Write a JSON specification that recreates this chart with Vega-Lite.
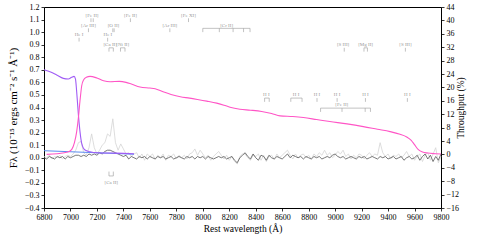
{
  "$schema": "https://vega.github.io/schema/vega-lite/v6.json",
  "width": 397,
  "height": 201,
  "autosize": "none",
  "padding": {"left": 44, "top": 7, "right": 38, "bottom": 32},
  "background": "white",
  "config": {
    "view": {"stroke": "black", "strokeWidth": 1},
    "font": "Liberation Serif",
    "axis": {
      "labelFont": "Liberation Serif", "titleFont": "Liberation Serif",
      "labelFontSize": 8, "titleFontSize": 9.5, "titleFontWeight": "normal",
      "labelColor": "black", "titleColor": "black", "labelOverlap": false,
      "domain": false, "grid": false, "tickColor": "black", "tickSize": 3, "tickWidth": 0.8
    }
  },
  "datasets": {
    "spec": [
      {"w":6800,"d":0.00,"l":0.01},{"w":6820,"d":-0.01,"l":0.00},{"w":6840,"d":0.01,"l":0.02},{"w":6860,"d":0.00,"l":-0.01},{"w":6880,"d":-0.01,"l":0.01},
      {"w":6900,"d":0.01,"l":0.00},{"w":6920,"d":0.00,"l":0.02},{"w":6940,"d":0.01,"l":-0.01},{"w":6960,"d":-0.01,"l":0.01},{"w":6980,"d":0.01,"l":0.02},
      {"w":7000,"d":0.00,"l":0.01},{"w":7020,"d":0.01,"l":0.03},{"w":7040,"d":0.02,"l":0.06},{"w":7060,"d":0.02,"l":0.12},{"w":7080,"d":0.01,"l":0.13},
      {"w":7100,"d":0.02,"l":0.04},{"w":7120,"d":0.01,"l":0.02},{"w":7140,"d":0.03,"l":0.08},{"w":7160,"d":0.02,"l":0.19},{"w":7180,"d":0.03,"l":0.08},
      {"w":7200,"d":0.02,"l":0.03},{"w":7220,"d":0.04,"l":0.06},{"w":7240,"d":0.03,"l":0.10},{"w":7260,"d":0.05,"l":0.12},{"w":7280,"d":0.06,"l":0.19},
      {"w":7300,"d":0.06,"l":0.17},{"w":7320,"d":0.05,"l":0.31},{"w":7340,"d":0.04,"l":0.12},{"w":7360,"d":0.03,"l":0.06},{"w":7380,"d":0.02,"l":0.11},
      {"w":7400,"d":0.01,"l":0.07},{"w":7420,"d":0.02,"l":0.03},{"w":7440,"d":-0.01,"l":0.04},{"w":7460,"d":0.01,"l":0.01},{"w":7480,"d":0.00,"l":0.03},
      {"w":7500,"d":-0.01,"l":0.04},{"w":7520,"d":0.01,"l":0.00},{"w":7540,"d":0.00,"l":0.03},{"w":7560,"d":0.01,"l":-0.02},{"w":7580,"d":-0.01,"l":0.03},
      {"w":7600,"d":0.01,"l":0.01},{"w":7620,"d":0.00,"l":0.03},{"w":7640,"d":-0.01,"l":-0.01},{"w":7660,"d":0.01,"l":0.02},{"w":7680,"d":0.00,"l":0.00},
      {"w":7700,"d":0.01,"l":0.03},{"w":7720,"d":-0.01,"l":-0.02},{"w":7740,"d":0.00,"l":0.02},{"w":7760,"d":0.01,"l":0.01},{"w":7780,"d":-0.01,"l":0.03},
      {"w":7800,"d":0.00,"l":-0.01},{"w":7820,"d":0.01,"l":0.02},{"w":7840,"d":0.00,"l":0.00},{"w":7860,"d":-0.01,"l":0.02},{"w":7880,"d":0.01,"l":-0.01},
      {"w":7900,"d":0.00,"l":0.03},{"w":7920,"d":0.01,"l":0.04},{"w":7940,"d":-0.01,"l":0.07},{"w":7960,"d":0.01,"l":0.02},{"w":7980,"d":0.00,"l":0.06},
      {"w":8000,"d":0.01,"l":0.03},{"w":8020,"d":-0.01,"l":0.00},{"w":8040,"d":0.01,"l":0.02},{"w":8060,"d":0.00,"l":-0.02},{"w":8080,"d":-0.01,"l":0.01},
      {"w":8100,"d":0.00,"l":0.03},{"w":8120,"d":0.01,"l":0.05},{"w":8140,"d":0.00,"l":0.02},{"w":8160,"d":0.01,"l":-0.01},{"w":8180,"d":-0.01,"l":0.02},
      {"w":8200,"d":0.00,"l":-0.02},{"w":8220,"d":0.01,"l":0.01},{"w":8240,"d":-0.02,"l":-0.03},{"w":8260,"d":-0.04,"l":-0.05},{"w":8280,"d":0.00,"l":0.01},
      {"w":8300,"d":0.02,"l":0.03},{"w":8320,"d":0.04,"l":0.03},{"w":8340,"d":0.01,"l":0.00},{"w":8360,"d":-0.01,"l":-0.02},{"w":8380,"d":0.03,"l":0.02},
      {"w":8400,"d":0.00,"l":0.01},{"w":8420,"d":-0.02,"l":0.03},{"w":8440,"d":0.02,"l":-0.02},{"w":8460,"d":0.01,"l":0.02},{"w":8480,"d":-0.02,"l":-0.03},
      {"w":8500,"d":0.02,"l":0.01},{"w":8520,"d":0.00,"l":0.02},{"w":8540,"d":-0.01,"l":-0.01},{"w":8560,"d":0.01,"l":0.03},{"w":8580,"d":0.00,"l":0.00},
      {"w":8600,"d":-0.01,"l":0.02},{"w":8620,"d":0.01,"l":0.04},{"w":8640,"d":0.03,"l":0.06},{"w":8660,"d":0.00,"l":0.02},{"w":8680,"d":0.02,"l":-0.01},
      {"w":8700,"d":0.01,"l":0.03},{"w":8720,"d":0.00,"l":0.00},{"w":8740,"d":0.01,"l":0.02},{"w":8760,"d":-0.01,"l":0.03},{"w":8780,"d":0.01,"l":0.00},
      {"w":8800,"d":0.00,"l":0.02},{"w":8820,"d":-0.01,"l":-0.01},{"w":8840,"d":0.01,"l":0.03},{"w":8860,"d":0.00,"l":0.01},{"w":8880,"d":0.01,"l":0.04},
      {"w":8900,"d":-0.01,"l":0.02},{"w":8920,"d":0.00,"l":0.06},{"w":8940,"d":0.01,"l":0.02},{"w":8960,"d":0.00,"l":0.04},{"w":8980,"d":0.02,"l":0.00},
      {"w":9000,"d":0.03,"l":0.02},{"w":9020,"d":0.01,"l":0.05},{"w":9040,"d":0.00,"l":0.03},{"w":9060,"d":0.01,"l":0.06},{"w":9080,"d":-0.01,"l":0.01},
      {"w":9100,"d":0.00,"l":0.03},{"w":9120,"d":0.01,"l":-0.01},{"w":9140,"d":0.00,"l":0.02},{"w":9160,"d":-0.01,"l":0.00},{"w":9180,"d":0.01,"l":0.03},
      {"w":9200,"d":0.00,"l":0.02},{"w":9220,"d":0.01,"l":-0.01},{"w":9240,"d":-0.01,"l":0.02},{"w":9260,"d":0.00,"l":0.04},{"w":9280,"d":0.01,"l":0.01},
      {"w":9300,"d":0.00,"l":0.03},{"w":9320,"d":-0.01,"l":0.02},{"w":9340,"d":0.01,"l":0.12},{"w":9360,"d":0.00,"l":0.04},{"w":9380,"d":0.01,"l":0.01},
      {"w":9400,"d":-0.01,"l":0.03},{"w":9420,"d":0.00,"l":-0.01},{"w":9440,"d":0.01,"l":0.02},{"w":9460,"d":-0.01,"l":0.01},{"w":9480,"d":0.00,"l":0.03},
      {"w":9500,"d":0.01,"l":0.00},{"w":9520,"d":-0.02,"l":0.02},{"w":9540,"d":0.00,"l":0.05},{"w":9560,"d":0.01,"l":0.01},{"w":9580,"d":-0.01,"l":0.03},
      {"w":9600,"d":0.00,"l":-0.02},{"w":9620,"d":0.02,"l":0.01},{"w":9640,"d":-0.02,"l":0.03},{"w":9660,"d":0.01,"l":-0.03},{"w":9680,"d":0.03,"l":0.02},
      {"w":9700,"d":-0.01,"l":0.04},{"w":9720,"d":0.02,"l":-0.02},{"w":9740,"d":-0.03,"l":0.03},{"w":9760,"d":0.01,"l":0.08},{"w":9780,"d":-0.02,"l":-0.04},
      {"w":9800,"d":0.03,"l":0.01}
    ],
    "pink": [
      {"w":6820,"t":0},{"w":6900,"t":0.2},{"w":6980,"t":0.7},{"w":7010,"t":1.5},{"w":7030,"t":3.5},{"w":7047,"t":6.8},{"w":7060,"t":11},{"w":7072,"t":16},
      {"w":7085,"t":20.5},{"w":7100,"t":22.3},{"w":7120,"t":23},{"w":7148,"t":23.3},{"w":7200,"t":22.8},{"w":7250,"t":22.0},{"w":7300,"t":21.7},
      {"w":7370,"t":21.8},{"w":7420,"t":21.5},{"w":7460,"t":21.0},{"w":7526,"t":20.1},{"w":7600,"t":19.8},{"w":7640,"t":19.6},{"w":7700,"t":18.7},
      {"w":7760,"t":17.9},{"w":7830,"t":17.2},{"w":7900,"t":16.8},{"w":7960,"t":16.4},{"w":8030,"t":15.9},{"w":8105,"t":15.3},{"w":8160,"t":14.7},
      {"w":8206,"t":14.1},{"w":8280,"t":13.5},{"w":8360,"t":13.2},{"w":8445,"t":12.8},{"w":8520,"t":12.2},{"w":8584,"t":11.5},{"w":8680,"t":11.3},
      {"w":8760,"t":11.0},{"w":8860,"t":10.4},{"w":8960,"t":9.8},{"w":9090,"t":9.1},{"w":9213,"t":8.3},{"w":9320,"t":7.5},{"w":9415,"t":6.8},
      {"w":9490,"t":6.0},{"w":9541,"t":5.2},{"w":9575,"t":4.2},{"w":9600,"t":2.9},{"w":9629,"t":1.4},{"w":9660,"t":0.7},{"w":9700,"t":0.4},
      {"w":9760,"t":0.2},{"w":9800,"t":0.1}
    ],
    "purple": [
      {"w":6800,"t":25.3},{"w":6850,"t":24.6},{"w":6896,"t":23.7},{"w":6946,"t":22.7},{"w":6984,"t":22.5},{"w":7009,"t":23.0},{"w":7027,"t":23.3},
      {"w":7038,"t":22.5},{"w":7047,"t":18.7},{"w":7060,"t":11.8},{"w":7072,"t":6.8},{"w":7085,"t":3.3},{"w":7110,"t":1.3},{"w":7148,"t":0.8},
      {"w":7200,"t":0.5},{"w":7300,"t":0.4},{"w":7400,"t":0.3},{"w":7480,"t":0.2}
    ],
    "blue": [{"w":6800,"v":0.056},{"w":7480,"v":0.028}],
    "labels": [
      {"w":7065,"v":0.985,"txt":"He I"},{"w":7136,"v":1.06,"txt":"[Ar III]"},{"w":7163,"v":1.14,"txt":"[Fe II]"},
      {"w":7283,"v":0.985,"txt":"He I"},{"w":7325,"v":1.06,"txt":"[O II]"},{"w":7300,"v":0.905,"txt":"[Ca II]"},
      {"w":7395,"v":0.905,"txt":"[Ni II]"},{"w":7453,"v":1.14,"txt":"[Fe II]"},{"w":7751,"v":1.06,"txt":"[Ar III]"},
      {"w":7892,"v":1.14,"txt":"[Fe XI]"},{"w":8180,"v":1.06,"txt":"[Cr II]"},{"w":9060,"v":0.905,"txt":"[S III]"},
      {"w":9230,"v":0.905,"txt":"[Mg II]"},{"w":9531,"v":0.905,"txt":"[S III]"},
      {"w":8480,"v":0.505,"txt":"H I"},{"w":8705,"v":0.505,"txt":"H I"},{"w":8863,"v":0.505,"txt":"H I"},
      {"w":9015,"v":0.505,"txt":"H I"},{"w":9229,"v":0.505,"txt":"H I"},{"w":9546,"v":0.505,"txt":"H I"},
      {"w":9050,"v":0.425,"txt":"[Fe II]"},{"w":7308,"v":-0.19,"txt":"[Ca II]"}
    ],
    "vticks": [
      {"w":7065,"a":0.955,"b":0.925},{"w":7136,"a":1.03,"b":1.0},{"w":7155,"a":1.11,"b":1.08},{"w":7172,"a":1.11,"b":1.08},
      {"w":7281,"a":0.955,"b":0.925},{"w":7320,"a":1.03,"b":1.0},{"w":7330,"a":1.03,"b":1.0},{"w":7453,"a":1.11,"b":1.08},
      {"w":7751,"a":1.03,"b":1.0},{"w":7892,"a":1.11,"b":1.08},
      {"w":7291,"a":0.875,"b":0.845},{"w":7324,"a":0.875,"b":0.845},{"w":7378,"a":0.875,"b":0.845},{"w":7412,"a":0.875,"b":0.845},
      {"w":8000,"a":1.03,"b":1.0},{"w":8125,"a":1.03,"b":1.0},{"w":8229,"a":1.03,"b":1.0},{"w":8308,"a":1.03,"b":1.0},{"w":8357,"a":1.03,"b":1.0},
      {"w":9069,"a":0.875,"b":0.845},{"w":9218,"a":0.875,"b":0.845},{"w":9244,"a":0.875,"b":0.845},{"w":9531,"a":0.875,"b":0.845},
      {"w":8467,"a":0.475,"b":0.445},{"w":8502,"a":0.475,"b":0.445},{"w":8665,"a":0.475,"b":0.445},{"w":8750,"a":0.475,"b":0.445},
      {"w":8863,"a":0.475,"b":0.445},{"w":9015,"a":0.475,"b":0.445},{"w":9229,"a":0.475,"b":0.445},{"w":9546,"a":0.475,"b":0.445},
      {"w":8890,"a":0.395,"b":0.365},{"w":9052,"a":0.395,"b":0.365},{"w":9227,"a":0.395,"b":0.365},{"w":9267,"a":0.395,"b":0.365},
      {"w":7291,"a":-0.145,"b":-0.11},{"w":7324,"a":-0.145,"b":-0.11}
    ],
    "hticks": [
      {"w1":7291,"w2":7324,"v":0.875},{"w1":7378,"w2":7412,"v":0.875},{"w1":8000,"w2":8357,"v":1.03},
      {"w1":9218,"w2":9244,"v":0.875},{"w1":8467,"w2":8502,"v":0.475},{"w1":8665,"w2":8750,"v":0.475},
      {"w1":8890,"w2":9267,"v":0.395},{"w1":7291,"w2":7324,"v":-0.145}
    ]
  },
  "encoding": {
    "x": {
      "field": "w", "type": "quantitative",
      "scale": {"domain": [6800, 9800], "nice": false, "zero": false},
      "axis": {"values": [6800,7000,7200,7400,7600,7800,8000,8200,8400,8600,8800,9000,9200,9400,9600,9800], "format": "d", "title": "Rest wavelength (Å)", "labelFlush": false, "titlePadding": 2, "labelPadding": 2}
    }
  },
  "layer": [
    {
      "layer": [
        {
          "data": {"name": "spec"},
          "mark": {"type": "line", "color": "#d4d4d4", "strokeWidth": 0.8},
          "encoding": {"y": {"field": "l", "type": "quantitative", "title": "Fλ (10⁻¹⁵ ergs cm⁻² s⁻¹ Å⁻¹)", "scale": {"domain": [-0.4, 1.2], "nice": false, "zero": false},
            "axis": {"values": [-0.4,-0.3,-0.2,-0.1,0,0.1,0.2,0.3,0.4,0.5,0.6,0.7,0.8,0.9,1.0,1.1,1.2], "format": ".1f", "titlePadding": 6, "labelPadding": 2, "titleFontSize": 11}}}
        },
        {
          "data": {"name": "spec"},
          "mark": {"type": "line", "color": "#555555", "strokeWidth": 0.8},
          "encoding": {"y": {"field": "d", "type": "quantitative", "title": "Fλ (10⁻¹⁵ ergs cm⁻² s⁻¹ Å⁻¹)",
            "axis": {"values": [-0.4,-0.3,-0.2,-0.1,0,0.1,0.2,0.3,0.4,0.5,0.6,0.7,0.8,0.9,1.0,1.1,1.2], "format": ".1f", "titlePadding": 6, "labelPadding": 2, "titleFontSize": 11}}}
        },
        {
          "data": {"name": "blue"},
          "mark": {"type": "line", "color": "#5b8cf0", "strokeWidth": 1},
          "encoding": {"y": {"field": "v", "type": "quantitative", "title": "Fλ (10⁻¹⁵ ergs cm⁻² s⁻¹ Å⁻¹)",
            "axis": {"values": [-0.4,-0.3,-0.2,-0.1,0,0.1,0.2,0.3,0.4,0.5,0.6,0.7,0.8,0.9,1.0,1.1,1.2], "format": ".1f", "titlePadding": 6, "labelPadding": 2, "titleFontSize": 11}}}
        },
        {
          "data": {"name": "labels"},
          "mark": {"type": "text", "color": "#999999", "fontSize": 5, "baseline": "middle", "align": "center"},
          "encoding": {"y": {"field": "v", "type": "quantitative", "title": "Fλ (10⁻¹⁵ ergs cm⁻² s⁻¹ Å⁻¹)",
            "axis": {"values": [-0.4,-0.3,-0.2,-0.1,0,0.1,0.2,0.3,0.4,0.5,0.6,0.7,0.8,0.9,1.0,1.1,1.2], "format": ".1f", "titlePadding": 6, "labelPadding": 2, "titleFontSize": 11}}, "text": {"field": "txt"}}
        },
        {
          "data": {"name": "vticks"},
          "mark": {"type": "rule", "color": "#999999", "strokeWidth": 0.6},
          "encoding": {"y": {"field": "a", "type": "quantitative", "title": "Fλ (10⁻¹⁵ ergs cm⁻² s⁻¹ Å⁻¹)",
            "axis": {"values": [-0.4,-0.3,-0.2,-0.1,0,0.1,0.2,0.3,0.4,0.5,0.6,0.7,0.8,0.9,1.0,1.1,1.2], "format": ".1f", "titlePadding": 6, "labelPadding": 2, "titleFontSize": 11}}, "y2": {"field": "b"}}
        },
        {
          "data": {"name": "hticks"},
          "mark": {"type": "rule", "color": "#999999", "strokeWidth": 0.6},
          "encoding": {"x": {"field": "w1", "type": "quantitative"}, "x2": {"field": "w2"}, "y": {"field": "v", "type": "quantitative", "title": "Fλ (10⁻¹⁵ ergs cm⁻² s⁻¹ Å⁻¹)",
            "axis": {"values": [-0.4,-0.3,-0.2,-0.1,0,0.1,0.2,0.3,0.4,0.5,0.6,0.7,0.8,0.9,1.0,1.1,1.2], "format": ".1f", "titlePadding": 6, "labelPadding": 2, "titleFontSize": 11}}}
        }
      ]
    },
    {
      "layer": [
        {
          "data": {"name": "purple"},
          "mark": {"type": "line", "color": "#a05cf5", "strokeWidth": 1.1, "interpolate": "monotone"},
          "encoding": {"y": {"field": "t", "type": "quantitative", "title": "Throughput (%)", "scale": {"domain": [-16, 44], "nice": false, "zero": false},
            "axis": {"orient": "right", "values": [-16,-12,-8,-4,0,4,8,12,16,20,24,28,32,36,40,44], "titlePadding": 7, "labelPadding": 2, "titleAngle": 270}}}
        },
        {
          "data": {"name": "pink"},
          "mark": {"type": "line", "color": "#ff55c6", "strokeWidth": 1.1, "interpolate": "monotone"},
          "encoding": {"y": {"field": "t", "type": "quantitative", "title": "Throughput (%)",
            "axis": {"orient": "right", "values": [-16,-12,-8,-4,0,4,8,12,16,20,24,28,32,36,40,44], "titlePadding": 7, "labelPadding": 2, "titleAngle": 270}}}
        }
      ]
    }
  ],
  "resolve": {"scale": {"y": "independent"}}
}
